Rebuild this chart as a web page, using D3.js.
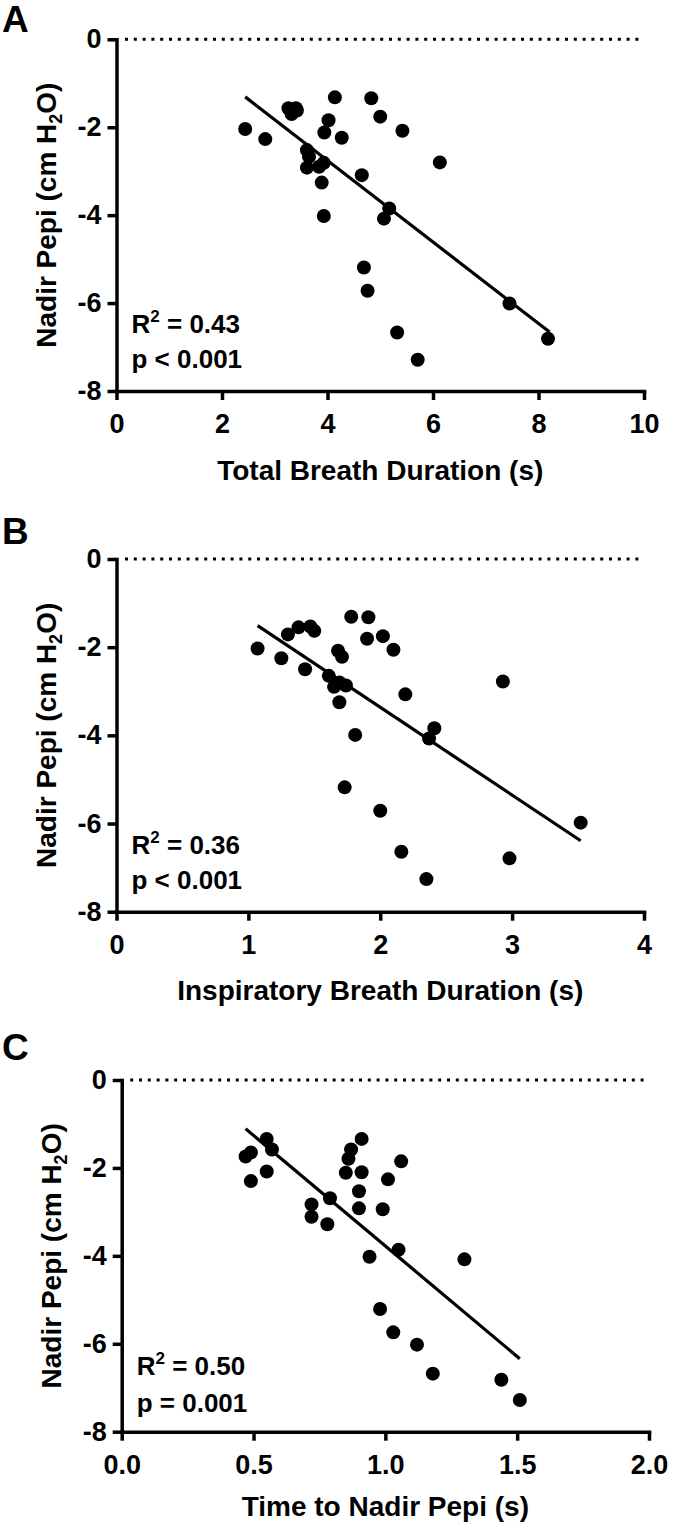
<!DOCTYPE html>
<html><head><meta charset="utf-8">
<script src="https://cdn.jsdelivr.net/npm/d3@7"></script>
<style>body{margin:0;background:#fff}svg{display:block}</style>
</head><body>
<script>
// ---- data ----
const yLabel = "Nadir Pepi";
const xTitles = ["Total Breath Duration (s)", "Inspiratory Breath Duration (s)", "Time to Nadir Pepi (s)"];
const panelLetters = ["A", "B", "C"];
const stats = [["0.43", "<", "0.001"], ["0.36", "<", "0.001"], ["0.50", "=", "0.001"]];
const xTicksA = [0, 2, 4, 6, 8, 10];
const xTicksB = [0, 1, 2, 3, 4];
const xTicksC = [0, 0.5, 1.0, 1.5, 2.0];
const yTicks = [0, -2, -4, -6, -8];

const xA = [2.44,2.82,3.26,3.40,3.32,3.42,4.14,4.02,3.94,4.27,4.83,5.00,5.42,6.13,3.61,3.65,3.61,3.84,3.93,3.89,3.93,4.65,5.17,5.07,4.69,4.76,5.32,5.71,7.45,8.18];
const yA = [-2.04,-2.27,-1.57,-1.57,-1.70,-1.62,-1.32,-1.84,-2.12,-2.24,-1.34,-1.76,-2.08,-2.80,-2.52,-2.67,-2.92,-2.90,-2.81,-3.26,-4.02,-3.09,-3.85,-4.08,-5.19,-5.72,-6.67,-7.29,-6.01,-6.81];
const fitA = [[2.44,-1.31],[8.21,-6.66]];

const xB = [1.07,1.25,1.30,1.38,1.47,1.50,1.43,1.61,1.68,1.71,1.78,1.91,1.90,2.02,2.10,1.65,1.69,1.74,1.69,2.19,1.81,2.41,2.37,2.93,1.73,2.00,2.16,2.35,2.98,3.52];
const yB = [-2.03,-2.25,-1.71,-1.55,-1.53,-1.63,-2.50,-2.65,-2.08,-2.22,-1.31,-1.32,-1.81,-1.75,-2.06,-2.90,-2.80,-2.87,-3.25,-3.07,-3.99,-3.84,-4.07,-2.78,-5.18,-5.71,-6.64,-7.26,-6.79,-5.98];
const fitB = [[1.07,-1.51],[3.52,-6.39]];

const xC = [0.47,0.49,0.49,0.55,0.57,0.55,0.72,0.72,0.79,0.78,0.87,0.86,0.85,0.91,0.91,0.90,0.90,1.01,1.06,0.99,1.05,0.94,1.30,0.98,1.03,1.12,1.18,1.44,1.51];
const yC = [-1.74,-1.65,-2.30,-1.34,-1.58,-2.08,-2.83,-3.11,-2.69,-3.28,-1.58,-1.79,-2.11,-1.34,-2.10,-2.53,-2.92,-2.26,-1.85,-2.94,-3.86,-4.02,-4.08,-5.21,-5.74,-6.02,-6.68,-6.82,-7.28];
const fitC = [[0.47,-1.11],[1.51,-6.34]];

// ---- layout ----
const W = 680, H = 1526;
const FONT = "'Liberation Sans', Arial, Helvetica, sans-serif";
const panels = [
  {xs: xA, ys: yA, fit: fitA, xdom: [0, 10], xt: xTicksA, fmt: d => String(d), L: 116.5, R: 644, T: 39.3, B: 391, titleY: 480, letterY: 32, r2: 58, pv: 23},
  {xs: xB, ys: yB, fit: fitB, xdom: [0, 4], xt: xTicksB, fmt: d => String(d), L: 116.5, R: 644, T: 559, B: 911.7, titleY: 1000, letterY: 544, r2: 58, pv: 23},
  {xs: xC, ys: yC, fit: fitC, xdom: [0, 2], xt: xTicksC, fmt: d3.format(".1f"), L: 121.7, R: 649, T: 1080, B: 1431.7, titleY: 1516, letterY: 1060, r2: 57, pv: 20}
];

const svg = d3.select("body").append("svg").attr("width", W).attr("height", H)
  .style("font-family", FONT).style("font-weight", "bold");

panels.forEach((p, i) => {
  const x = d3.scaleLinear().domain(p.xdom).range([p.L, p.R]);
  const y = d3.scaleLinear().domain([-8, 0]).range([p.B, p.T]);
  const g = svg.append("g");

  // dotted zero line
  g.append("line").attr("x1", x(p.xdom[0]) + 8.5).attr("x2", x(p.xdom[1]))
    .attr("y1", y(0)).attr("y2", y(0))
    .attr("stroke", "#000").attr("stroke-width", 3).attr("stroke-dasharray", "3,5.8");

  // axes
  const xAxis = d3.axisBottom(x).tickValues(p.xt).tickFormat(p.fmt).tickSize(9).tickSizeOuter(0).tickPadding(4);
  const yAxis = d3.axisLeft(y).tickValues(yTicks).tickFormat(d => String(d)).tickSize(9).tickSizeOuter(0).tickPadding(6);
  const gx = g.append("g").attr("transform", `translate(0,${p.B})`).call(xAxis);
  const gy = g.append("g").attr("transform", `translate(${p.L},0)`).call(yAxis);
  [gx, gy].forEach(a => {
    a.select(".domain").attr("stroke-width", 3.5).attr("stroke-linecap", "square");
    a.selectAll(".tick line").attr("stroke-width", 3.5);
    a.selectAll(".tick text").attr("font-size", 27).attr("font-family", FONT).attr("font-weight", "bold").attr("fill", "#000");
  });
  gx.selectAll(".tick text").attr("y", 42).attr("dy", 0);

  // regression line
  g.append("line")
    .attr("x1", x(p.fit[0][0])).attr("y1", y(p.fit[0][1]))
    .attr("x2", x(p.fit[1][0])).attr("y2", y(p.fit[1][1]))
    .attr("stroke", "#000").attr("stroke-width", 3.2);

  // points
  g.selectAll("circle.pt").data(p.xs.map((v, k) => [v, p.ys[k]])).join("circle")
    .attr("class", "pt").attr("cx", d => x(d[0])).attr("cy", d => y(d[1])).attr("r", 7).attr("fill", "#000");

  // stats text
  const st = stats[i];
  const t1 = g.append("text").attr("x", p.L + 15).attr("y", p.B - p.r2).attr("font-size", 26);
  t1.append("tspan").text("R");
  t1.append("tspan").text("2").attr("font-size", 17).attr("dy", -11);
  t1.append("tspan").text(` = ${st[0]}`).attr("dy", 11);
  g.append("text").attr("x", p.L + 15).attr("y", p.B - p.pv).attr("font-size", 26).text(`p ${st[1]} ${st[2]}`);

  // x title
  g.append("text").attr("x", (p.L + p.R) / 2).attr("y", p.titleY).attr("text-anchor", "middle")
    .attr("font-size", 28).text(xTitles[i]);

  // y title
  const yt = g.append("text").attr("transform", `translate(${p.L - 61},${(p.T + p.B) / 2}) rotate(-90)`)
    .attr("text-anchor", "middle").attr("font-size", 28);
  yt.append("tspan").text(yLabel + " (cm H");
  yt.append("tspan").text("2").attr("font-size", 18).attr("dy", 6);
  yt.append("tspan").text("O)").attr("dy", -6);

  // panel letter
  svg.append("text").attr("x", 2).attr("y", p.letterY).attr("font-size", 37).text(panelLetters[i]);
});
</script>
</body></html>
